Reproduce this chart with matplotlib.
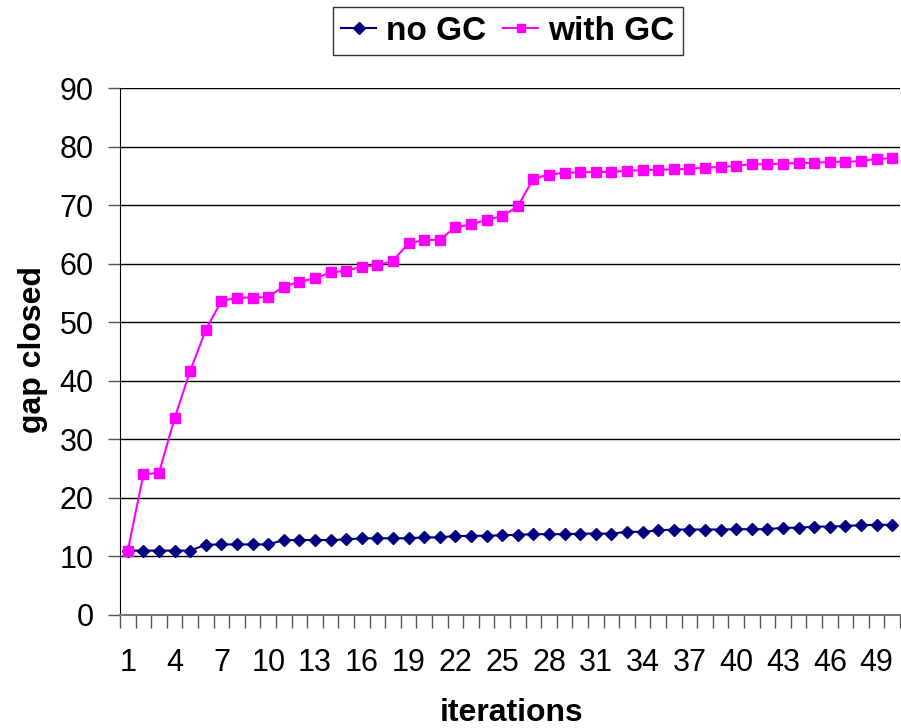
import numpy as np
import matplotlib.pyplot as plt
from matplotlib.ticker import MultipleLocator, FixedLocator

plt.rcParams['font.family'] = ['Liberation Sans', 'DejaVu Sans']

# iterations 1..50
iterations = list(range(1, 51))

no_gc = [11.0, 11.0, 11.0, 11.0, 11.0, 12.0, 12.05, 12.05, 12.05, 12.05,
         12.8, 12.8, 12.8, 12.8, 12.9, 13.1, 13.1, 13.1, 13.1, 13.25,
         13.25, 13.5, 13.5, 13.55, 13.6, 13.7, 13.8, 13.8, 13.8, 13.9,
         13.9, 13.9, 14.2, 14.2, 14.45, 14.6, 14.6, 14.6, 14.6, 14.65,
         14.65, 14.65, 14.9, 14.9, 15.1, 15.1, 15.2, 15.35, 15.4, 15.4]

with_gc = [11.0, 24.0, 24.3, 33.6, 41.7, 48.7, 53.6, 54.2, 54.2, 54.3,
           56.1, 56.9, 57.5, 58.5, 58.8, 59.5, 59.7, 60.5, 63.5, 64.0,
           64.1, 66.2, 66.7, 67.5, 68.1, 69.8, 74.5, 75.2, 75.5, 75.6,
           75.65, 75.7, 75.85, 76.0, 76.05, 76.1, 76.2, 76.4, 76.5, 76.7,
           77.0, 77.0, 77.1, 77.2, 77.2, 77.4, 77.4, 77.5, 77.9, 78.0]

fig = plt.figure(figsize=(9.01, 7.28), dpi=100)
ax = fig.add_axes([120 / 901, 1 - 615 / 728, 780 / 901, 527 / 728])

ax.plot(iterations, no_gc, color='#000080', marker='D', markersize=6.5,
        linewidth=1.5, label='no GC', zorder=3)
ax.plot(iterations, with_gc, color='#FF00FF', marker='s', markersize=7.5,
        linewidth=1.5, label='with GC', zorder=4)

ax.set_xlim(0.5, 50.5)
ax.set_ylim(0, 90)

# y axis
ax.yaxis.set_major_locator(MultipleLocator(10))
ax.yaxis.grid(True, color='black', linewidth=1)
ax.set_axisbelow(True)
ax.tick_params(axis='y', which='major', direction='out', length=9, width=1,
               pad=10, labelsize=22, color='#555555')

# x axis: labels every 3, tick marks between categories
ax.xaxis.set_major_locator(FixedLocator(iterations[::3]))
ax.xaxis.set_minor_locator(FixedLocator(np.arange(0.5, 51, 1)))
ax.tick_params(axis='x', which='major', length=0, pad=24, labelsize=22)
ax.tick_params(axis='x', which='minor', direction='out', length=9, width=1,
               color='#555555')

for side in ['top', 'right']:
    ax.spines[side].set_visible(False)
ax.spines['left'].set_color('black')
ax.spines['bottom'].set_color('#777777')
ax.spines['bottom'].set_linewidth(1.5)

fig.text(33 / 901, 1 - 350 / 728, 'gap closed', rotation=90, ha='center',
         va='center', fontsize=23, fontweight='bold')
fig.text(512 / 901, 1 - 721 / 728, 'iterations', ha='center', va='baseline',
         fontsize=23, fontweight='bold')

leg = fig.legend(loc='center', bbox_to_anchor=(508 / 901, 1 - 31 / 728), ncol=2,
                 prop={'size': 24, 'weight': 'bold'}, frameon=True, fancybox=False,
                 edgecolor='black', handlelength=1.05, handletextpad=0.3,
                 columnspacing=0.5, borderpad=0.25, borderaxespad=0)
leg.get_frame().set_linewidth(1)
for h in leg.legend_handles:
    h.set_markersize(6)

fig.savefig('out.png', dpi=100)
